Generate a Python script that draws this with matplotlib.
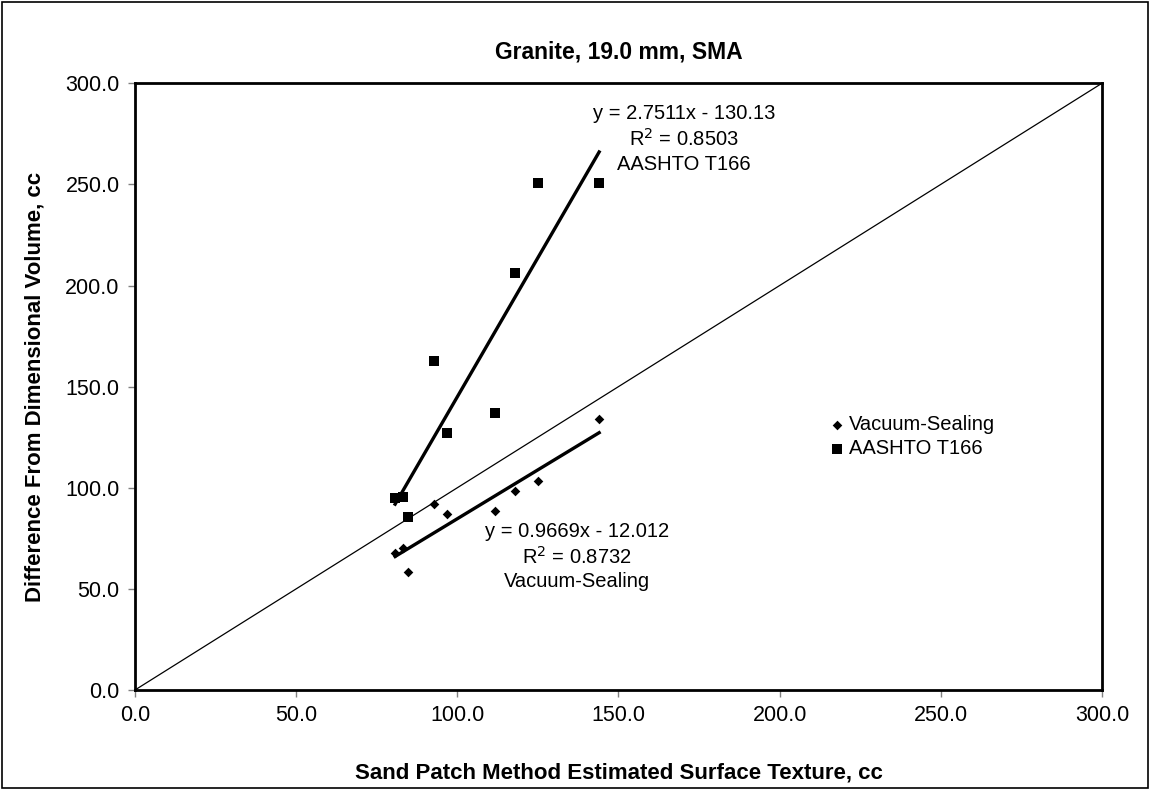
import numpy as np
import matplotlib
matplotlib.use("Agg")
import matplotlib.pyplot as plt
from matplotlib.patches import Rectangle

plt.rcParams['font.family'] = ['Liberation Sans', 'DejaVu Sans']

# Sand patch estimated surface texture (cc) for each specimen
sand_patch = [125.1, 144.0, 117.9, 92.9, 111.7, 96.7, 80.7, 83.2, 84.6]
# Difference from dimensional volume (cc)
aashto_t166 = [250.9, 250.6, 206.4, 162.9, 137.0, 127.0, 94.8, 95.6, 85.4]
vacuum_sealing = [103.4, 134.2, 98.4, 92.1, 88.4, 87.0, 67.9, 70.1, 58.2]

# Linear trendline coefficients (slope, intercept) and R^2
aashto_fit = [2.7511, -130.13]
aashto_r2 = 0.8503
vacuum_fit = [0.9669, -12.012]
vacuum_r2 = 0.8732

axis_ticks = [0, 50, 100, 150, 200, 250, 300]

fig = plt.figure(figsize=(11.51, 7.90), dpi=100)
ax = fig.add_axes([0.1173, 0.1266, 0.8401, 0.7680])

# Outer border around the whole figure
fig.patches.append(Rectangle((0.002, 0.003), 0.995, 0.994, transform=fig.transFigure,
                             fill=False, edgecolor='black', linewidth=1.2))

# Line of equality
ax.plot([0, 300], [0, 300], color='black', linewidth=0.9, zorder=2)

x = np.array(sand_patch)
xs = np.array([x.min(), x.max()])

ax.plot(xs, aashto_fit[0] * xs + aashto_fit[1], color='black', linewidth=2.4, zorder=3)
ax.plot(xs, vacuum_fit[0] * xs + vacuum_fit[1], color='black', linewidth=2.4, zorder=3)

ax.scatter(sand_patch, vacuum_sealing, marker='D', s=24, color='black', zorder=4,
           label='Vacuum-Sealing', linewidths=0)
ax.scatter(sand_patch, aashto_t166, marker='s', s=46, color='black', zorder=4,
           label='AASHTO T166', linewidths=0)

ax.set_xlim(0, 300)
ax.set_ylim(0, 300)
ax.set_xticks(axis_ticks)
ax.set_yticks(axis_ticks)
ax.set_xticklabels([f"{t:.1f}" for t in axis_ticks])
ax.set_yticklabels([f"{t:.1f}" for t in axis_ticks])
ax.tick_params(axis='both', direction='out', length=5, width=1, color='#808080',
               labelsize=15.5, pad=6)

for side in ['left', 'bottom', 'top', 'right']:
    ax.spines[side].set_linewidth(2.0)
    ax.spines[side].set_color('black')

ax.set_title('Granite, 19.0 mm, SMA', fontsize=16.5, fontweight='bold', pad=18)
ax.set_xlabel('Sand Patch Method Estimated Surface Texture, cc', fontsize=16,
              fontweight='bold', labelpad=26)
ax.set_ylabel('Difference From Dimensional Volume, cc', fontsize=16,
              fontweight='bold', labelpad=14)

ax.text(170.3, 272.5, f"y = {aashto_fit[0]:.4f}x - {abs(aashto_fit[1]):.2f}\n"
        f"R$^2$ = {aashto_r2:.4f}\nAASHTO T166",
        ha='center', va='center', fontsize=14.5, linespacing=1.3)
ax.text(137.2, 66.0, f"y = {vacuum_fit[0]:.4f}x - {abs(vacuum_fit[1]):.3f}\n"
        f"R$^2$ = {vacuum_r2:.4f}\nVacuum-Sealing",
        ha='center', va='center', fontsize=14.5, linespacing=1.3)

ax.legend(loc='center left', bbox_to_anchor=(0.7177, 0.418), frameon=False, fontsize=14.5,
          handletextpad=0.2, labelspacing=0.25, borderpad=0, borderaxespad=0,
          handlelength=0.8, markerscale=1.0)

fig.savefig('out.png', dpi=100)
